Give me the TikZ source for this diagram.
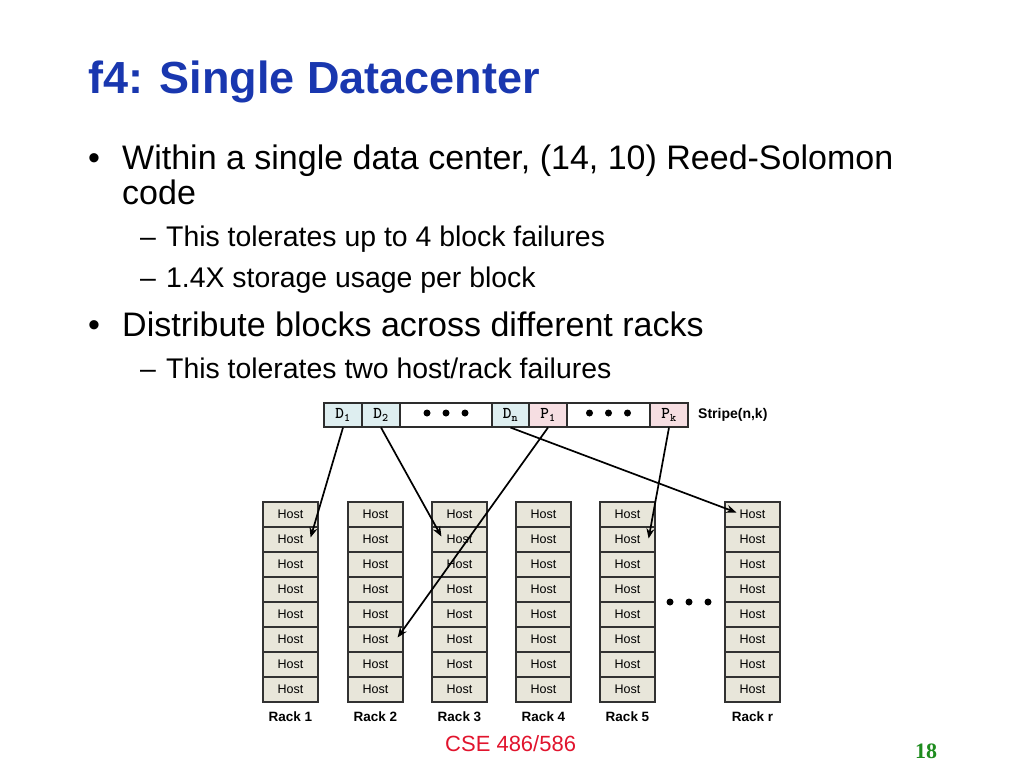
\documentclass[tikz,border=0pt]{standalone}
\usepackage{fontspec}
\setmainfont{Liberation Sans}
\newfontfamily\numfont{Liberation Serif}
\usetikzlibrary{arrows.meta}
\definecolor{titleblue}{RGB}{25,55,175}
\definecolor{footred}{RGB}{225,20,45}
\definecolor{pagegreen}{RGB}{30,140,30}
\definecolor{hostfill}{RGB}{232,230,218}
\definecolor{hostline}{RGB}{50,50,50}
\definecolor{datafill}{RGB}{222,238,240}
\definecolor{parityfill}{RGB}{246,222,226}
\definecolor{cellline}{RGB}{45,45,45}

\begin{document}
\begin{tikzpicture}[x=1pt,y=-1pt]
		\tikzset{
			host box/.style={draw=hostline,fill=hostfill,line width=1.2pt,minimum width=55pt,minimum height=25pt,inner sep=0pt,font=\fontsize{12.5}{14}\selectfont},
			rack label/.style={font=\bfseries\fontsize{13.5}{16}\selectfont},
			stripe cell/.style={draw=cellline,line width=1.1pt,minimum height=24pt,inner sep=0pt,font=\ttfamily\bfseries\fontsize{16.5}{18}\selectfont},
			data cell/.style={stripe cell,fill=datafill},
			parity cell/.style={stripe cell,fill=parityfill},
			place arrow/.style={-{Stealth[length=10pt,width=8pt]},line width=1.7pt},
			bullet text/.style={anchor=base west,inner sep=0pt,font=\fontsize{34}{40}\selectfont},
			sub text/.style={anchor=base west,inner sep=0pt,font=\fontsize{28.4}{32}\selectfont}
		}
		\useasboundingbox (0,0) rectangle (1024,768);

		\node[anchor=base west,inner sep=0pt,text=titleblue,font=\bfseries\fontsize{45}{54}\selectfont] (title) at (88,93) {f4: Single Datacenter};

		\node[bullet text] (b1dot) at (88,169) {•};
		\node[bullet text] (b1) at (122,169) {Within a single data center, (14, 10) Reed-Solomon};
		\node[bullet text] (b1b) at (122,204) {code};
		\node[sub text] (s1dash) at (140,246) {–};
		\node[sub text] (s1) at (166,246) {This tolerates up to 4 block failures};
		\node[sub text] (s2dash) at (140,287) {–};
		\node[sub text] (s2) at (166,287) {1.4X storage usage per block};
		\node[bullet text] (b2dot) at (88,336) {•};
		\node[bullet text] (b2) at (122,336) {Distribute blocks across different racks};
		\node[sub text] (s3dash) at (140,378) {–};
		\node[sub text] (s3) at (166,378) {This tolerates two host/rack failures};

		\foreach \n/\a/\b/\s/\t in {d1/324/362/data cell/{D\textsubscript{1}},d2/362/400/data cell/{D\textsubscript{2}},dotsa/400/492/stripe cell/{},dn/492/529/data cell/{D\textsubscript{n}},p1/529/567/parity cell/{P\textsubscript{1}},dotsb/567/650/stripe cell/{},pk/650/688/parity cell/{P\textsubscript{k}}}{
			\pgfmathsetmacro\w{\b-\a}
			\node[\s,minimum width=\w pt] (\n) at ({(\a+\b)/2},415) {\t};
		}
		\foreach \dx in {-19,0,19}{
			\fill (dotsa.center) ++(\dx,-2) circle (3.5);
			\fill (dotsb.center) ++(\dx,-2) circle (3.5);
		}
		\node[anchor=west,inner sep=0pt,font=\bfseries\fontsize{14}{16}\selectfont] (stripe) at (698,415) {Stripe(n,k)};

		\foreach \x/\r in {263/1,348/2,432/3,516/4,600/5,725/r}{
			\foreach \j in {1,...,8}
				\node[host box] (h\r-\j) at ({\x+27.5},{489.5+25*\j}) {Host};
			\node[rack label] (rack\r) at ({\x+27.5},717) {Rack \r};
		}
		\foreach \x in {670,689,708}
			\fill (\x,602) circle (3.5);

		\draw[place arrow] (d1.south) -- ([xshift=-8pt,yshift=2pt]h1-2.east);
		\draw[place arrow] (d2.south) -- ([xshift=10pt,yshift=3pt]h3-2.west);
		\draw[place arrow] (dn.south) -- ([xshift=12pt,yshift=2pt]hr-1.west);
		\draw[place arrow] (p1.south) -- ([xshift=-6pt,yshift=2pt]h2-6.east);
		\draw[place arrow] (pk.south) -- ([xshift=-7pt,yshift=1pt]h5-2.east);

		\node[anchor=base west,inner sep=0pt,text=footred,font=\fontsize{22}{26}\selectfont] (course) at (445,751) {CSE 486/586};
		\node[anchor=base,inner sep=0pt,text=pagegreen,font=\numfont\bfseries\fontsize{22}{26}\selectfont] (page) at (926,758) {18};
	\end{tikzpicture}
\end{document}
